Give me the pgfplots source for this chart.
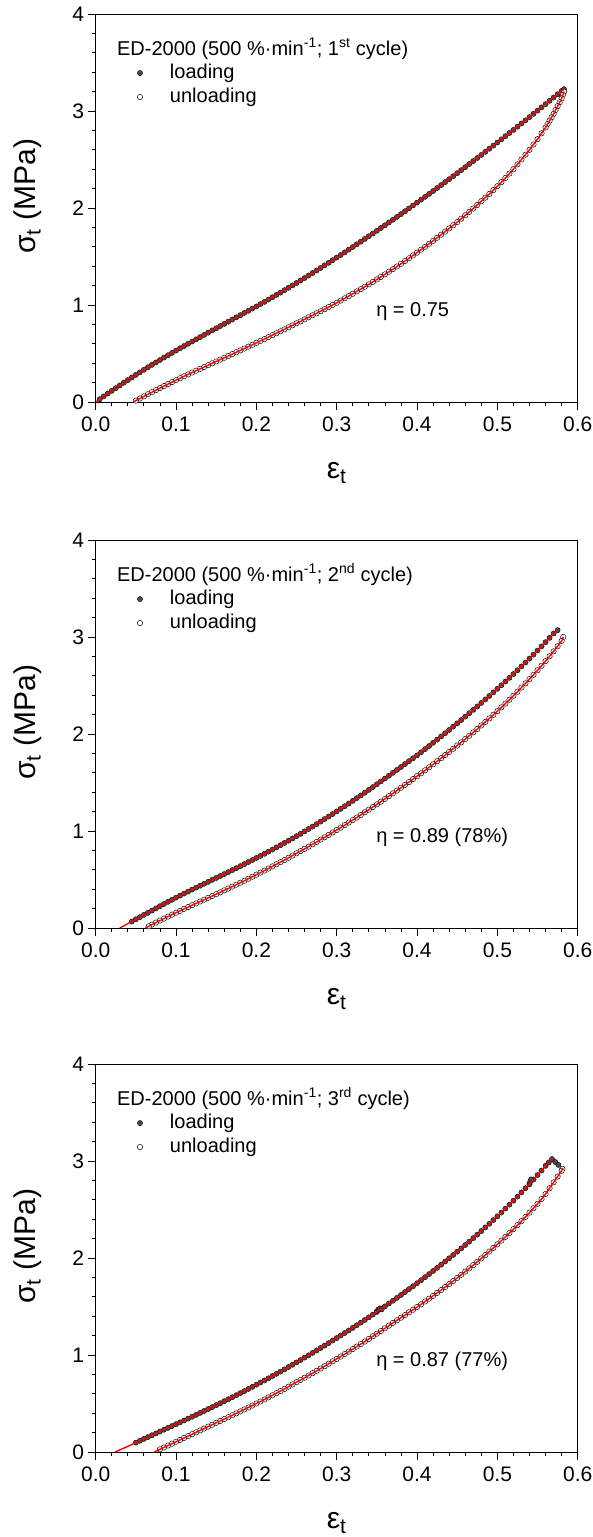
\documentclass[border=0pt]{standalone}
\usepackage{fontspec}
\setmainfont{Liberation Sans}
\usepackage{pgfplots}
\pgfplotsset{compat=1.18}
\usepackage{pgfplotstable}

% ---------- panel 1 (1st cycle)
\pgfplotstableread{
x y
0 0
0.005 0.029
0.01 0.058
0.015 0.087
0.02 0.115
0.025 0.143
0.03 0.171
0.035 0.199
0.04 0.226
0.045 0.253
0.05 0.280
0.055 0.306
0.06 0.332
0.065 0.358
0.07 0.383
0.075 0.408
0.08 0.433
0.085 0.458
0.09 0.482
0.095 0.506
0.10 0.530
0.105 0.554
0.11 0.577
0.115 0.600
0.12 0.623
0.125 0.646
0.13 0.669
0.135 0.692
0.14 0.715
0.145 0.738
0.15 0.760
0.155 0.783
0.16 0.805
0.165 0.828
0.17 0.850
0.175 0.873
0.18 0.895
0.185 0.918
0.19 0.940
0.195 0.963
0.20 0.985
0.205 1.009
0.21 1.032
0.215 1.056
0.22 1.080
0.225 1.104
0.23 1.128
0.235 1.153
0.24 1.177
0.245 1.202
0.25 1.227
0.255 1.253
0.26 1.278
0.265 1.304
0.27 1.330
0.275 1.356
0.28 1.382
0.285 1.409
0.29 1.435
0.295 1.462
0.30 1.489
0.305 1.516
0.31 1.543
0.315 1.571
0.32 1.598
0.325 1.626
0.33 1.653
0.335 1.681
0.34 1.709
0.345 1.737
0.35 1.765
0.355 1.794
0.36 1.822
0.365 1.851
0.37 1.879
0.375 1.908
0.38 1.937
0.385 1.967
0.39 1.996
0.395 2.026
0.40 2.055
0.405 2.085
0.41 2.115
0.415 2.145
0.42 2.175
0.425 2.206
0.43 2.236
0.435 2.267
0.44 2.297
0.445 2.328
0.45 2.359
0.455 2.390
0.46 2.421
0.465 2.453
0.47 2.484
0.475 2.516
0.48 2.547
0.485 2.579
0.49 2.611
0.495 2.643
0.50 2.675
0.505 2.708
0.51 2.740
0.515 2.773
0.52 2.805
0.525 2.838
0.53 2.871
0.535 2.904
0.54 2.937
0.545 2.971
0.55 3.004
0.555 3.038
0.56 3.071
0.565 3.105
0.57 3.139
0.575 3.173
0.58 3.207
0.583 3.225
}\loadA
\pgfplotstableread{
x y
0.583 3.20
0.5815 3.165
0.58 3.13
0.5775 3.09
0.575 3.05
0.5725 3.01
0.57 2.97
0.5675 2.935
0.565 2.90
0.5625 2.865
0.56 2.83
0.555 2.77
0.55 2.71
0.545 2.655
0.54 2.60
0.535 2.55
0.53 2.50
0.525 2.45
0.52 2.40
0.515 2.355
0.51 2.31
0.505 2.267
0.50 2.225
0.495 2.185
0.49 2.145
0.485 2.107
0.48 2.07
0.475 2.032
0.47 1.995
0.465 1.96
0.46 1.925
0.455 1.89
0.45 1.855
0.445 1.822
0.44 1.79
0.435 1.757
0.43 1.725
0.425 1.693
0.42 1.662
0.415 1.631
0.41 1.60
0.405 1.57
0.40 1.54
0.395 1.511
0.39 1.482
0.385 1.453
0.38 1.425
0.375 1.397
0.37 1.370
0.365 1.343
0.36 1.316
0.355 1.290
0.35 1.264
0.345 1.238
0.34 1.213
0.335 1.188
0.33 1.164
0.325 1.140
0.32 1.116
0.315 1.092
0.31 1.069
0.305 1.046
0.30 1.023
0.295 1.001
0.29 0.979
0.285 0.957
0.28 0.936
0.275 0.915
0.27 0.894
0.265 0.873
0.26 0.852
0.255 0.831
0.25 0.811
0.245 0.790
0.24 0.770
0.235 0.749
0.23 0.729
0.225 0.709
0.22 0.689
0.215 0.669
0.21 0.649
0.205 0.629
0.20 0.610
0.195 0.590
0.19 0.571
0.185 0.551
0.18 0.532
0.175 0.513
0.17 0.494
0.165 0.475
0.16 0.456
0.155 0.437
0.15 0.418
0.145 0.399
0.14 0.380
0.135 0.361
0.13 0.342
0.125 0.323
0.12 0.304
0.115 0.285
0.11 0.265
0.105 0.245
0.10 0.225
0.095 0.205
0.09 0.184
0.085 0.164
0.08 0.143
0.075 0.122
0.07 0.101
0.065 0.080
0.06 0.058
0.055 0.036
0.05 0.014
0.047 0
}\unloadA

% ---------- panel 2 (2nd cycle)
\pgfplotstableread{
x y
0.03 0
0.035 0.022
0.04 0.045
0.045 0.067
0.05 0.09
0.055 0.112
0.06 0.135
0.065 0.157
0.07 0.18
0.075 0.202
0.08 0.225
0.085 0.247
0.09 0.27
0.095 0.291
0.10 0.313
0.105 0.334
0.11 0.355
0.115 0.375
0.12 0.396
0.125 0.416
0.13 0.436
0.135 0.456
0.14 0.476
0.145 0.496
0.15 0.516
0.155 0.536
0.16 0.556
0.165 0.576
0.17 0.597
0.175 0.617
0.18 0.638
0.185 0.659
0.19 0.680
0.195 0.701
0.20 0.722
0.205 0.743
0.21 0.765
0.215 0.787
0.22 0.809
0.225 0.831
0.23 0.854
0.235 0.877
0.24 0.900
0.245 0.923
0.25 0.947
0.255 0.971
0.26 0.996
0.265 1.021
0.27 1.046
0.275 1.071
0.28 1.097
0.285 1.123
0.29 1.149
0.295 1.175
0.30 1.202
0.305 1.229
0.31 1.256
0.315 1.283
0.32 1.311
0.325 1.339
0.33 1.367
0.335 1.395
0.34 1.424
0.345 1.453
0.35 1.482
0.355 1.511
0.36 1.541
0.365 1.570
0.37 1.600
0.375 1.630
0.38 1.660
0.385 1.690
0.39 1.720
0.395 1.750
0.40 1.780
0.405 1.812
0.41 1.844
0.415 1.876
0.42 1.909
0.425 1.942
0.43 1.975
0.435 2.008
0.44 2.042
0.445 2.076
0.45 2.110
0.455 2.144
0.46 2.179
0.465 2.214
0.47 2.249
0.475 2.284
0.48 2.320
0.485 2.356
0.49 2.392
0.495 2.429
0.50 2.466
0.505 2.503
0.51 2.541
0.515 2.579
0.52 2.618
0.525 2.657
0.53 2.697
0.535 2.737
0.54 2.778
0.545 2.819
0.55 2.861
0.555 2.904
0.56 2.947
0.565 2.991
0.57 3.036
0.575 3.07
}\loadB
\pgfplotstableread{
x y
0.582 3.0
0.58 2.96
0.575 2.905
0.57 2.852
0.565 2.801
0.56 2.752
0.555 2.704
0.55 2.657
0.545 2.611
0.54 2.566
0.535 2.522
0.53 2.479
0.525 2.437
0.52 2.395
0.515 2.354
0.51 2.314
0.505 2.275
0.50 2.236
0.495 2.198
0.49 2.161
0.485 2.124
0.48 2.088
0.475 2.052
0.47 2.017
0.465 1.982
0.46 1.948
0.455 1.914
0.45 1.881
0.445 1.848
0.44 1.815
0.435 1.783
0.43 1.751
0.425 1.719
0.42 1.688
0.415 1.657
0.41 1.626
0.405 1.595
0.40 1.565
0.395 1.535
0.39 1.505
0.385 1.475
0.38 1.446
0.375 1.417
0.37 1.388
0.365 1.359
0.36 1.331
0.355 1.303
0.35 1.275
0.345 1.247
0.34 1.220
0.335 1.193
0.33 1.166
0.325 1.139
0.32 1.113
0.315 1.087
0.31 1.061
0.305 1.035
0.30 1.010
0.295 0.985
0.29 0.960
0.285 0.935
0.28 0.911
0.275 0.887
0.27 0.863
0.265 0.839
0.26 0.816
0.255 0.793
0.25 0.770
0.245 0.747
0.24 0.724
0.235 0.701
0.23 0.679
0.225 0.657
0.22 0.635
0.215 0.613
0.21 0.592
0.205 0.571
0.20 0.550
0.195 0.529
0.19 0.508
0.185 0.487
0.18 0.467
0.175 0.447
0.17 0.427
0.165 0.407
0.16 0.388
0.155 0.368
0.15 0.349
0.145 0.330
0.14 0.311
0.135 0.292
0.13 0.273
0.125 0.254
0.12 0.235
0.115 0.216
0.11 0.197
0.105 0.177
0.10 0.158
0.095 0.138
0.09 0.118
0.085 0.097
0.08 0.077
0.075 0.056
0.07 0.035
0.066 0.017
0.062 0
}\unloadB

% ---------- panel 3 (3rd cycle)
\pgfplotstableread{
x y
0.024 0
0.03 0.022
0.035 0.040
0.04 0.059
0.045 0.078
0.05 0.097
0.055 0.116
0.06 0.135
0.065 0.154
0.07 0.173
0.075 0.192
0.08 0.211
0.085 0.230
0.09 0.249
0.095 0.268
0.10 0.287
0.105 0.306
0.11 0.325
0.115 0.344
0.12 0.364
0.125 0.383
0.13 0.403
0.135 0.423
0.14 0.443
0.145 0.463
0.15 0.483
0.155 0.503
0.16 0.524
0.165 0.544
0.17 0.565
0.175 0.586
0.18 0.607
0.185 0.628
0.19 0.650
0.195 0.672
0.20 0.694
0.205 0.716
0.21 0.738
0.215 0.760
0.22 0.783
0.225 0.806
0.23 0.829
0.235 0.852
0.24 0.876
0.245 0.900
0.25 0.924
0.255 0.948
0.26 0.973
0.265 0.997
0.27 1.022
0.275 1.047
0.28 1.072
0.285 1.097
0.29 1.123
0.295 1.149
0.30 1.175
0.305 1.201
0.31 1.227
0.315 1.253
0.32 1.280
0.325 1.307
0.33 1.334
0.335 1.361
0.34 1.389
0.345 1.417
0.35 1.445
0.355 1.473
0.36 1.502
0.365 1.531
0.37 1.560
0.375 1.589
0.38 1.619
0.385 1.649
0.39 1.679
0.395 1.709
0.40 1.740
0.405 1.771
0.41 1.802
0.415 1.834
0.42 1.866
0.425 1.898
0.43 1.931
0.435 1.964
0.44 1.997
0.445 2.031
0.45 2.065
0.455 2.099
0.46 2.134
0.465 2.169
0.47 2.205
0.475 2.241
0.48 2.278
0.485 2.315
0.49 2.353
0.495 2.391
0.50 2.430
0.505 2.469
0.51 2.509
0.515 2.550
0.52 2.591
0.525 2.633
0.53 2.676
0.535 2.720
0.54 2.764
0.545 2.809
0.55 2.855
0.555 2.902
0.56 2.950
0.564 2.985
0.568 3.02
}\loadC
\pgfplotstableread{
x y
0.350 1.45
0.352 1.47
0.354 1.48
0.356 1.47
0.540 2.76
0.541 2.79
0.542 2.81
0.572 2.99
0.576 2.96
}\extraC
\pgfplotstableread{
x y
0.581 2.92
0.58 2.90
0.575 2.84
0.57 2.78
0.565 2.72
0.56 2.66
0.555 2.608
0.55 2.559
0.545 2.513
0.54 2.468
0.535 2.424
0.53 2.381
0.525 2.339
0.52 2.298
0.515 2.258
0.51 2.218
0.505 2.179
0.50 2.141
0.495 2.104
0.49 2.067
0.485 2.031
0.48 1.996
0.475 1.961
0.47 1.927
0.465 1.893
0.46 1.860
0.455 1.827
0.45 1.795
0.445 1.763
0.44 1.732
0.435 1.701
0.43 1.670
0.425 1.640
0.42 1.610
0.415 1.581
0.41 1.552
0.405 1.523
0.40 1.495
0.395 1.467
0.39 1.440
0.385 1.412
0.38 1.385
0.375 1.358
0.37 1.331
0.365 1.303
0.36 1.275
0.355 1.248
0.35 1.220
0.345 1.193
0.34 1.166
0.335 1.139
0.33 1.113
0.325 1.087
0.32 1.061
0.315 1.035
0.31 1.010
0.305 0.985
0.30 0.960
0.295 0.935
0.29 0.910
0.285 0.885
0.28 0.861
0.275 0.837
0.27 0.813
0.265 0.789
0.26 0.766
0.255 0.743
0.25 0.720
0.245 0.697
0.24 0.674
0.235 0.651
0.23 0.629
0.225 0.607
0.22 0.585
0.215 0.563
0.21 0.542
0.205 0.521
0.20 0.500
0.195 0.479
0.19 0.459
0.185 0.439
0.18 0.419
0.175 0.399
0.17 0.379
0.165 0.359
0.16 0.340
0.155 0.320
0.15 0.301
0.145 0.281
0.14 0.262
0.135 0.242
0.13 0.223
0.125 0.203
0.12 0.184
0.115 0.164
0.11 0.145
0.105 0.125
0.10 0.106
0.095 0.086
0.09 0.067
0.085 0.047
0.08 0.028
0.073 0
}\unloadC

\pgfplotsset{
  cyc/.style={
    width=482pt, height=388pt, scale only axis,
    anchor=south west,
    xmin=0, xmax=0.6, ymin=0, ymax=4,
    xtick={0,0.1,0.2,0.3,0.4,0.5,0.6},
    xticklabels={0.0,0.1,0.2,0.3,0.4,0.5,0.6},
    ytick={0,1,2,3,4},
    minor x tick num=4, minor y tick num=4,
    tick align=outside, xtick pos=bottom, ytick pos=left,
    major tick length=8pt, minor tick length=4pt,
    tick style={line width=0.8pt, black},
    axis line style={line width=0.8pt},
    ticklabel style={font=\fontsize{21}{25}\selectfont},
    xticklabel style={yshift=-3pt},
    /pgf/number format/assume math mode=true,
    xlabel={ε\textsubscript{t}},
    ylabel={σ\textsubscript{t} (MPa)},
    label style={font=\fontsize{30}{36}\selectfont},
    xlabel style={at={(axis description cs:0.5,0)}, anchor=center, yshift=-71pt},
    ylabel style={at={(axis description cs:-0.141,0.53)}, anchor=center},
    clip mode=individual,
    legend style={at={(rel axis cs:0.0836,0.871)}, anchor=north west,
      draw=none, fill=none, inner sep=0pt, outer sep=0pt,
      font=\fontsize{20}{24}\selectfont,
      row sep=6pt, column sep=0pt,
      nodes={inner sep=0pt, text height=14pt, text depth=4pt},
      cells={anchor=west}},
    legend image code/.code={
      \pgfpathrectangle{\pgfpoint{0pt}{-2pt}}{\pgfpoint{34pt}{4pt}}%
      \pgfusepath{use as bounding box}%
      \draw[mark repeat=2,mark phase=2,##1] plot coordinates {(0pt,0pt)(4pt,0pt)(8pt,0pt)};
    },
  },
  load/.style={only marks, mark=*, mark size=2.6pt,
    mark options={fill=black!70, draw=black, line width=0.4pt}},
  unload/.style={only marks, mark=*, mark size=2.7pt,
    mark options={fill=white, draw=black, line width=0.5pt}},
  fit/.style={red, line width=1.4pt, no marks, forget plot},
}

\newcommand{\legtitle}[1]{%
  \node[anchor=base west, inner sep=0pt, font=\fontsize{20}{24}\selectfont]
    at (rel axis cs:0.044,0.894) {ED-2000 (500 \%·min\textsuperscript{-1}; #1 cycle)};}
\newcommand{\etanote}[1]{%
  \node[anchor=west, inner sep=0pt, font=\fontsize{20}{24}\selectfont]
    at (axis cs:0.349,0.93) {#1};}

\begin{document}
\begin{tikzpicture}
\useasboundingbox (-95.7pt,-1135pt) rectangle (497.3pt,402pt);

\begin{axis}[cyc, at={(0pt,0pt)}]
  \addplot[load, restrict x to domain=0.004:1] table {\loadA};
  \addlegendentry{loading}
  \addplot[unload, restrict x to domain=0.05:1] table {\unloadA};
  \addlegendentry{unloading}
  \addplot[fit] table {\loadA};
  \addplot[fit] table {\unloadA};
  \legtitle{1\textsuperscript{st}}
  \etanote{η = 0.75}
\end{axis}

\begin{axis}[cyc, at={(0pt,-526pt)}]
  \addplot[load, restrict x to domain=0.044:1] table {\loadB};
  \addlegendentry{loading}
  \addplot[unload, restrict x to domain=0.064:1] table {\unloadB};
  \addlegendentry{unloading}
  \addplot[fit] table {\loadB};
  \addplot[fit] table {\unloadB};
  \legtitle{2\textsuperscript{nd}}
  \etanote{η = 0.89 (78\%)}
\end{axis}

\begin{axis}[cyc, at={(0pt,-1050pt)}]
  \addplot[load, restrict x to domain=0.048:1] table {\loadC};
  \addlegendentry{loading}
  \addplot[unload, restrict x to domain=0.076:1] table {\unloadC};
  \addlegendentry{unloading}
  \addplot[load, forget plot] table {\extraC};
  \addplot[fit] table {\loadC};
  \addplot[fit] table {\unloadC};
  \legtitle{3\textsuperscript{rd}}
  \etanote{η = 0.87 (77\%)}
\end{axis}
\end{tikzpicture}
\end{document}
